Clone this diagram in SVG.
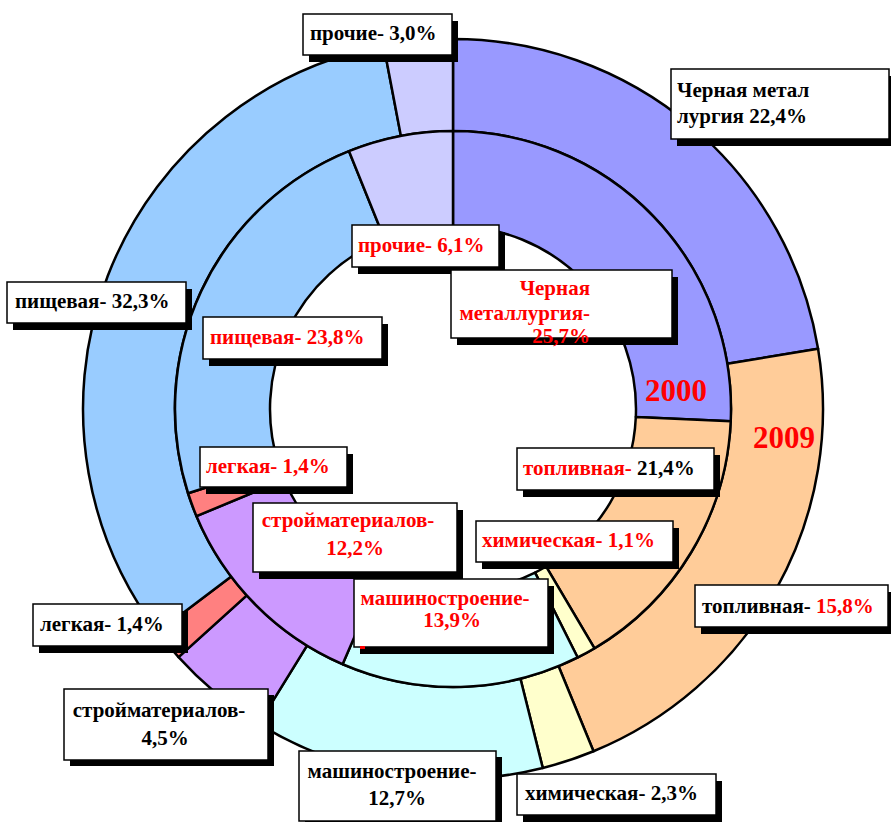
<svg xmlns="http://www.w3.org/2000/svg" width="891" height="822" viewBox="0 0 891 822">
  <style>
    .seg { stroke: #000; stroke-width: 2.5; stroke-linejoin: round; }
    .c1 { fill: #9999FF; }
    .c2 { fill: #FFCC99; }
    .c3 { fill: #FFFFCC; }
    .c4 { fill: #CCFFFF; }
    .c5 { fill: #CC99FF; }
    .c6 { fill: #FF8080; }
    .c7 { fill: #99CCFF; }
    .c8 { fill: #CCCCFF; }
    .shadow { fill: #000; }
    .box { fill: #fff; stroke: #000; stroke-width: 1.5; }
    text { font-family: "Liberation Serif", "Times New Roman", serif; font-weight: bold; font-size: 21px; fill: #000; }
    .red { fill: #FF0000; }
    .year { font-size: 31px; fill: #FF0000; }
  </style>

  <!-- outer ring: 2009 -->
  <g id="ring-2009">
    <path class="seg c1" d="M453,39 A370,370 0 0 1 818.08,348.82 L727.30,363.79 A278,278 0 0 0 453,131 Z"/>
    <path class="seg c2" d="M818.08,348.82 A370,370 0 0 1 593.51,751.28 L558.58,666.17 A278,278 0 0 0 727.30,363.79 Z"/>
    <path class="seg c3" d="M593.51,751.28 A370,370 0 0 1 542.77,767.94 L520.45,678.69 A278,278 0 0 0 558.58,666.17 Z"/>
    <path class="seg c4" d="M542.77,767.94 A370,370 0 0 1 258.69,723.87 L307.00,645.58 A278,278 0 0 0 520.45,678.69 Z"/>
    <path class="seg c5" d="M258.69,723.87 A370,370 0 0 1 178.54,657.14 L246.79,595.44 A278,278 0 0 0 307.00,645.58 Z"/>
    <path class="seg c6" d="M178.54,657.14 A370,370 0 0 1 157.80,632.07 L231.20,576.60 A278,278 0 0 0 246.79,595.44 Z"/>
    <path class="seg c7" d="M157.80,632.07 A370,370 0 0 1 383.67,45.55 L400.91,135.92 A278,278 0 0 0 231.20,576.60 Z"/>
    <path class="seg c8" d="M383.67,45.55 A370,370 0 0 1 453,39 L453,131 A278,278 0 0 0 400.91,135.92 Z"/>
  </g>

  <!-- inner ring: 2000 -->
  <g id="ring-2000">
    <path class="seg c1" d="M453,131 A278,278 0 0 1 730.73,421.22 L635.82,417.04 A183,183 0 0 0 453,226 Z"/>
    <path class="seg c2" d="M730.73,421.22 A278,278 0 0 1 594.51,648.29 L546.15,566.52 A183,183 0 0 0 635.82,417.04 Z"/>
    <path class="seg c3" d="M594.51,648.29 A278,278 0 0 1 577.65,657.49 L535.05,572.57 A183,183 0 0 0 546.15,566.52 Z"/>
    <path class="seg c4" d="M577.65,657.49 A278,278 0 0 1 342.59,664.13 L380.32,576.95 A183,183 0 0 0 535.05,572.57 Z"/>
    <path class="seg c5" d="M342.59,664.13 A278,278 0 0 1 196.50,516.19 L284.15,479.56 A183,183 0 0 0 380.32,576.95 Z"/>
    <path class="seg c6" d="M196.50,516.19 A278,278 0 0 1 188.07,493.25 L278.60,464.46 A183,183 0 0 0 284.15,479.56 Z"/>
    <path class="seg c7" d="M188.07,493.25 A278,278 0 0 1 349.03,151.17 L384.56,239.28 A183,183 0 0 0 278.60,464.46 Z"/>
    <path class="seg c8" d="M349.03,151.17 A278,278 0 0 1 453,131 L453,226 A183,183 0 0 0 384.56,239.28 Z"/>
  </g>

  <!-- year captions -->
  <g id="year-2000"><text class="year" x="645" y="401">2000</text></g>
  <g id="year-2009"><text class="year" x="753" y="448">2009</text></g>

  <!-- data labels -->
  <g id="lbl-other-2009">
    <rect class="shadow" x="309" y="21" width="149" height="41"/>
    <rect class="box" x="303" y="14" width="149" height="41"/>
    <text x="310" y="40">прочие- 3,0%</text>
  </g>

  <g id="lbl-ferrous-2009">
    <rect class="shadow" x="677" y="76" width="218" height="70"/>
    <rect class="box" x="671" y="69" width="218" height="70"/>
    <text x="677" y="97">Черная метал</text>
    <text x="677" y="123">лургия 22,4%</text>
  </g>

  <g id="lbl-food-2009">
    <rect class="shadow" x="13" y="289" width="179" height="41"/>
    <rect class="box" x="7" y="282" width="179" height="41"/>
    <text x="15" y="308">пищевая- 32,3%</text>
  </g>

  <g id="lbl-food-2000">
    <rect class="shadow" x="209" y="324" width="179" height="42"/>
    <rect class="box" x="203" y="317" width="179" height="42"/>
    <text class="red" x="210" y="344">пищевая- 23,8%</text>
  </g>

  <g id="lbl-other-2000">
    <rect class="shadow" x="358" y="232" width="147" height="42"/>
    <rect class="box" x="352" y="225" width="147" height="42"/>
    <text class="red" x="358" y="252">прочие- 6,1%</text>
  </g>

  <g id="lbl-ferrous-2000">
    <rect class="shadow" x="457" y="277" width="221" height="68"/>
    <rect class="box" x="451" y="270" width="221" height="68"/>
    <text class="red" x="590" y="295" text-anchor="end">Черная</text>
    <text class="red" x="590" y="320" text-anchor="end">металлургия-</text>
    <text class="red" x="590" y="343" text-anchor="end">25,7%</text>
  </g>

  <g id="lbl-fuel-2000">
    <rect class="shadow" x="523" y="455" width="197" height="42"/>
    <rect class="box" x="517" y="448" width="197" height="42"/>
    <text x="523" y="475"><tspan class="red">топливная-</tspan> 21,4%</text>
  </g>

  <g id="lbl-chem-2000">
    <rect class="shadow" x="482" y="528" width="197" height="41"/>
    <rect class="box" x="476" y="521" width="197" height="41"/>
    <text class="red" x="482" y="547">химическая- 1,1%</text>
  </g>

  <g id="lbl-fuel-2009">
    <rect class="shadow" x="701" y="592" width="193" height="42"/>
    <rect class="box" x="695" y="585" width="193" height="42"/>
    <text x="702" y="613">топливная- <tspan class="red">15,8%</tspan></text>
  </g>

  <g id="lbl-light-2000">
    <rect class="shadow" x="206" y="454" width="147" height="40"/>
    <rect class="box" x="200" y="447" width="147" height="40"/>
    <text class="red" x="206" y="473">легкая- 1,4%</text>
  </g>

  <g id="lbl-building-2000">
    <rect class="shadow" x="259" y="510" width="204" height="69"/>
    <rect class="box" x="253" y="503" width="204" height="69"/>
    <text class="red" x="348" y="527" text-anchor="middle">стройматериалов-</text>
    <text class="red" x="355" y="555" text-anchor="middle">12,2%</text>
  </g>

  <g id="lbl-machine-2000">
    <rect class="shadow" x="360" y="586" width="194" height="68"/>
    <rect class="box" x="354" y="579" width="194" height="68"/>
    <text class="red" x="445" y="605" text-anchor="middle">машиностроение-</text>
    <text class="red" x="452" y="627" text-anchor="middle">13,9%</text>
    <rect x="360" y="646" width="5" height="3" fill="#FF0000"/>
  </g>

  <g id="lbl-light-2009">
    <rect class="shadow" x="39" y="611" width="149" height="42"/>
    <rect class="box" x="33" y="604" width="149" height="42"/>
    <text x="40" y="631">легкая- 1,4%</text>
  </g>

  <g id="lbl-building-2009">
    <rect class="shadow" x="70" y="695" width="204" height="71"/>
    <rect class="box" x="64" y="689" width="204" height="71"/>
    <text x="159" y="717" text-anchor="middle">стройматериалов-</text>
    <text x="165" y="745" text-anchor="middle">4,5%</text>
  </g>

  <g id="lbl-machine-2009">
    <rect class="shadow" x="305" y="757" width="197" height="72"/>
    <rect class="box" x="299" y="751" width="197" height="70"/>
    <text x="392" y="778" text-anchor="middle">машиностроение-</text>
    <text x="397" y="805" text-anchor="middle">12,7%</text>
  </g>

  <g id="lbl-chem-2009">
    <rect class="shadow" x="523" y="781" width="199" height="41"/>
    <rect class="box" x="517" y="774" width="199" height="41"/>
    <text x="525" y="800">химическая- 2,3%</text>
  </g>
</svg>
